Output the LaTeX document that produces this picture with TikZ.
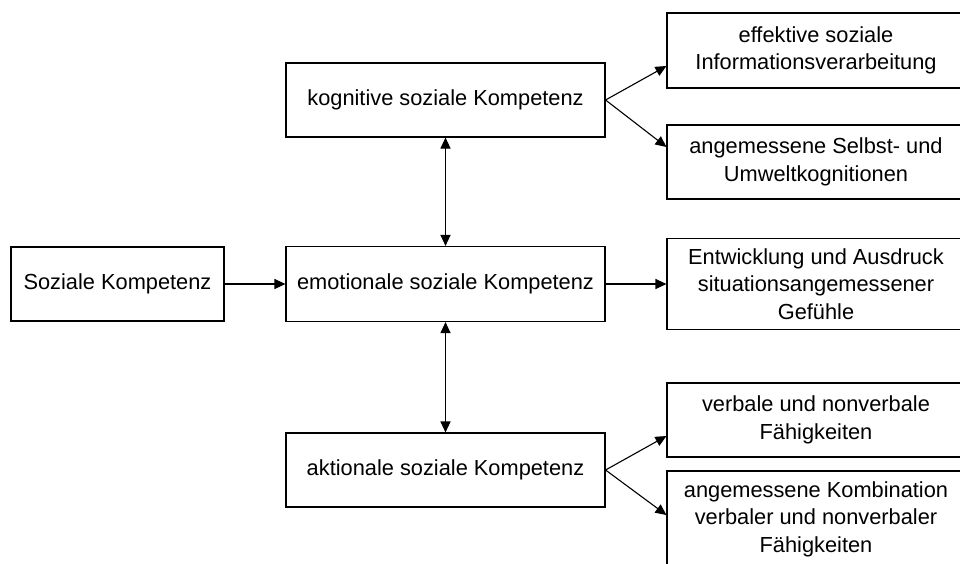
\documentclass[tikz,border=0pt]{standalone}
\usepackage{fontspec}
\setmainfont{Liberation Sans}
\usetikzlibrary{arrows.meta}

\begin{document}
\begin{tikzpicture}[x=1pt,y=-1pt,
    font=\fontsize{21.8pt}{27.5pt}\selectfont,
    kbox/.style={draw,line width=1.1pt,inner sep=0pt,align=center},
    arr/.style={line width=1.1pt,-{Triangle[length=11pt,width=10pt]}},
    darr/.style={line width=1.1pt,{Triangle[length=11pt,width=10pt]}-{Triangle[length=11pt,width=10pt]}}]
                \useasboundingbox (0,0) rectangle (960,563);
                \node[kbox,minimum width=213pt,minimum height=74pt] (soz) at (117.5,284) {Soziale Kompetenz};
                \node[kbox,minimum width=319pt,minimum height=74pt] (kog) at (445.5,100) {kognitive soziale Kompetenz};
                \node[kbox,minimum width=319pt,minimum height=75pt] (emo) at (445.5,284) {emotionale soziale Kompetenz};
                \node[kbox,minimum width=319pt,minimum height=74pt] (akt) at (445.5,470) {aktionale soziale Kompetenz};
                \node[kbox,minimum width=298pt,minimum height=75pt] (eff) at (816,50.5) {effektive soziale\\Informationsverarbeitung};
                \node[kbox,minimum width=298pt,minimum height=74pt] (selb) at (816,162) {angemessene Selbst- und\\Umweltkognitionen};
                \node[kbox,minimum width=298pt,minimum height=91pt] (entw) at (816,284) {Entwicklung und Ausdruck\\situationsangemessener\\Gef\"uhle};
                \node[kbox,minimum width=298pt,minimum height=74pt] (verb) at (816,420) {verbale und nonverbale\\F\"ahigkeiten};
                \node[kbox,minimum width=298pt,minimum height=96pt] (komb) at (816,519) {angemessene Kombination\\verbaler und nonverbaler\\F\"ahigkeiten};
                \draw[arr] (soz.east) -- (emo.west);
                \draw[arr] (emo.east) -- (entw.west);
                \draw[darr] (kog.south) -- (emo.north);
                \draw[darr] (emo.south) -- (akt.north);
                \draw[arr] (kog.east) -- ([yshift=-15.5pt]eff.west);
                \draw[arr] (kog.east) -- ([yshift=15pt]selb.west);
                \draw[arr] (akt.east) -- ([yshift=-16pt]verb.west);
                \draw[arr] (akt.east) -- ([yshift=4pt]komb.west);
            \end{tikzpicture}
\end{document}
